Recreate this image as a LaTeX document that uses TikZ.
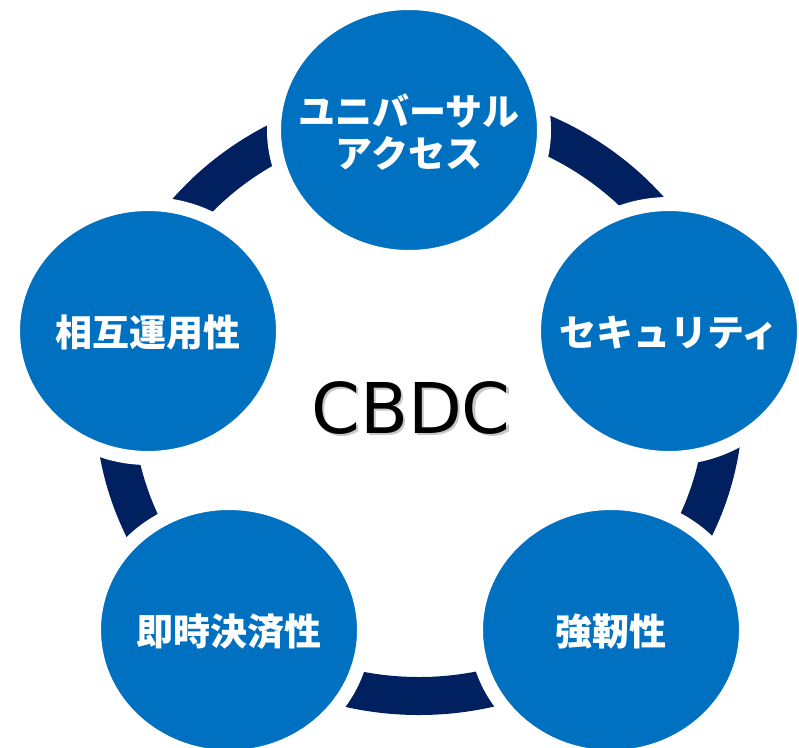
\documentclass[tikz,border=0pt]{standalone}
\usepackage{fontspec}
\setmainfont{DejaVu Sans}
\newfontfamily\jpfont{Noto Sans CJK JP}
\usetikzlibrary{shapes.geometric}
\definecolor{pillarblue}{HTML}{0070C0}
\definecolor{ringnavy}{HTML}{002060}
\newcommand{\softshade}[1]{\makebox[0pt][l]{\hspace{2.5pt}\raisebox{-2.5pt}{\textcolor{black!22}{#1}}}#1}

\begin{document}
\begin{tikzpicture}[x=1pt, y=-1pt,
	pillar/.style={ellipse, fill=pillarblue, draw=white, line width=14pt, minimum width=270pt, minimum height=254pt, inner sep=0pt},
	every label/.style={text=white, font=\jpfont\bfseries\fontsize{37}{42}\selectfont, align=center, yshift=-2pt},
	title/.style={font=\fontsize{70}{84}\selectfont, anchor=base}]
	\useasboundingbox (0,0) rectangle (799,747);
	\coordinate (hub) at (419,402);
	\draw[ringnavy, line width=38pt] (hub) ellipse [x radius=305pt, y radius=294pt];
	
	\node[pillar, label={center:ユニバーサル\\アクセス}] (access) at (409,130){};
	\node[pillar, label={center:セキュリティ}] (security) at (669,331){};
	\node[pillar, label={center:強靭性}] (resilience) at (611,630){};
	\node[pillar, label={center:即時決済性}] (settlement) at (229,630){};
	\node[pillar, label={center:相互運用性}] (interop) at (148,331){};
	
	\node[title] (cbdc) at (411,433){\softshade{CBDC}};
\end{tikzpicture}
\end{document}
